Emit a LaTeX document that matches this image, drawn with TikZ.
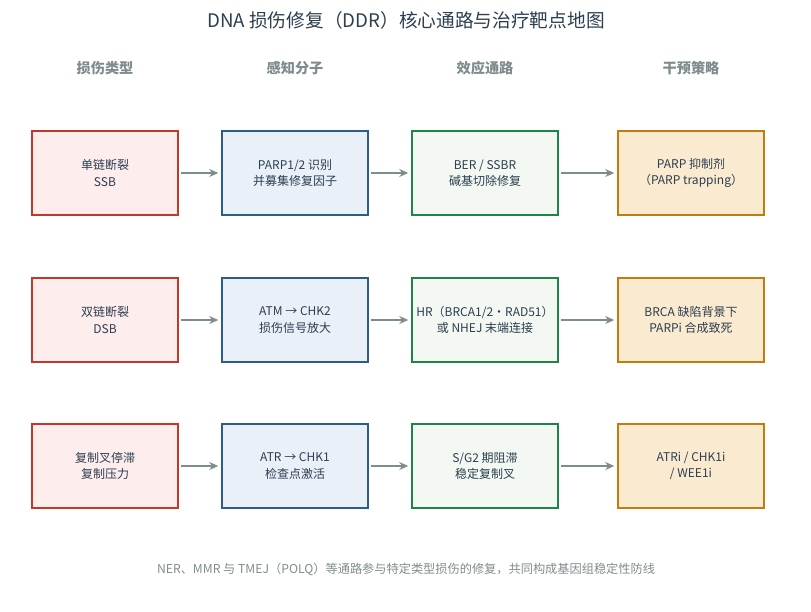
\documentclass[tikz,border=0pt]{standalone}
\usepackage{fontspec}
\setmainfont{Noto Sans CJK SC}
\usetikzlibrary{arrows.meta}
\definecolor{tc}{HTML}{2C3E50}
\definecolor{gc}{HTML}{7F8C8D}
\definecolor{rD}{HTML}{C0392B}\definecolor{rF}{HTML}{FDEDEC}
\definecolor{bD}{HTML}{2E5C8A}\definecolor{bF}{HTML}{EAF0F8}
\definecolor{gD}{HTML}{1E8449}\definecolor{gF}{HTML}{F3F8F2}
\definecolor{oD}{HTML}{C27C0E}\definecolor{oF}{HTML}{FAEBD0}
\begin{document}
\begin{tikzpicture}[x=1pt,y=-1pt,
  box/.style={draw=#1D,fill=#1F,line width=1.5pt,minimum width=146pt,minimum height=84pt,align=center,font=\fontsize{12}{16}\selectfont,text=tc},
  lb/.style={align=center,font=\fontsize{12}{16.5}\selectfont,text=tc},
  hd/.style={font=\bfseries\fontsize{14.2}{16}\selectfont,text=gc},
  ar/.style={draw=gc,line width=1.8pt,-{Stealth[length=9pt,width=8pt]}}]
\useasboundingbox (0,0) rectangle (811,611);
\node[font=\fontsize{18.7}{20}\selectfont,text=tc] (title) at (406,20) {DNA 损伤修复（DDR）核心通路与治疗靶点地图};
\node[hd] (h1) at (105,68) {损伤类型};
\node[hd] (h2) at (295,68) {感知分子};
\node[hd] (h3) at (485,68) {效应通路};
\node[hd] (h4) at (691,68) {干预策略};
\foreach \r/\y in {1/173,2/320,3/466}{
  \node[box=r] (a\r) at (105,\y) {};
  \node[box=b] (b\r) at (295,\y) {};
  \node[box=g] (c\r) at (485,\y) {};
  \node[box=o] (d\r) at (691,\y) {};
  \draw[ar] (a\r.east) ++(2,0) -- ([xshift=-3pt]b\r.west);
  \draw[ar] (b\r.east) ++(2,0) -- ([xshift=-3pt]c\r.west);
  \draw[ar] (c\r.east) ++(2,0) -- ([xshift=-3pt]d\r.west);
}
\node[lb] at (a1) {单链断裂\\SSB};
\node[lb] at (b1) {PARP1/2 识别\\并募集修复因子};
\node[lb] at (c1) {BER / SSBR\\碱基切除修复};
\node[lb] at (d1) {PARP 抑制剂\\（PARP trapping）};
\node[lb] at (a2) {双链断裂\\DSB};
\node[lb] at (b2) {ATM → CHK2\\损伤信号放大};
\node[lb] at (c2) {HR（BRCA1/2・RAD51）\\或 NHEJ 末端连接};
\node[lb] at (d2) {BRCA 缺陷背景下\\PARPi 合成致死};
\node[lb] at (a3) {复制叉停滞\\复制压力};
\node[lb] at (b3) {ATR → CHK1\\检查点激活};
\node[lb] at (c3) {S/G2 期阻滞\\稳定复制叉};
\node[lb] at (d3) {ATRi / CHK1i\\/ WEE1i};
\node[font=\fontsize{12.2}{14}\selectfont,text=gc] (foot) at (406,569) {NER、MMR 与 TMEJ（POLQ）等通路参与特定类型损伤的修复，共同构成基因组稳定性防线};
\end{tikzpicture}
\end{document}
